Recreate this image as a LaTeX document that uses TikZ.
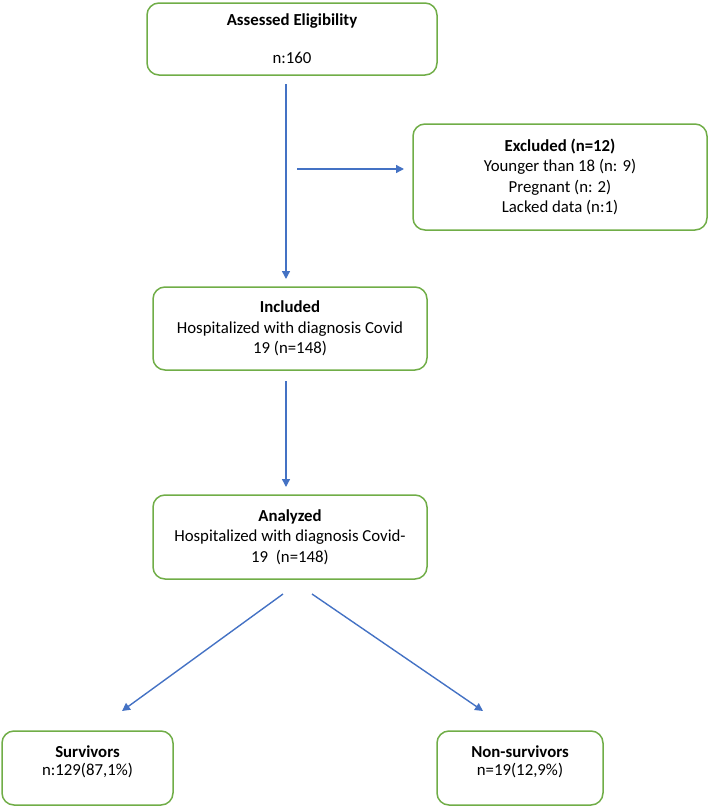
\documentclass[tikz,border=0pt]{standalone}
\usepackage{fontspec}
\setmainfont{Carlito}
\usetikzlibrary{arrows.meta}
\definecolor{boxgreen}{HTML}{70AD47}
\definecolor{arrowblue}{HTML}{4472C4}
\begin{document}
\begin{tikzpicture}[x=1pt,y=1pt,
  box/.style={draw=boxgreen, line width=1.5pt, rounded corners=12pt, align=center,
    inner sep=0pt, font=\fontsize{16.8}{20.5}\selectfont},
  arr/.style={draw=arrowblue, line width=1.4pt, -{Triangle[length=8pt,width=8pt]}}]
\useasboundingbox (0,0) rectangle (709,-806);
\node[box, minimum width=290pt, minimum height=72pt] (elig) at (292,-39)
  {\textbf{Assessed Eligibility}\\[-1.5pt] \mbox{}\\[-1.5pt] n:160};
\node[box, minimum width=294pt, minimum height=106pt] (excl) at (560,-177)
  {\textbf{Excluded (n=12)}\\ Younger than 18 (n: 9)\\ Pregnant (n: 2)\\ Lacked data (n:1)};
\node[box, minimum width=274pt, minimum height=83pt] (incl) at (290,-328.5)
  {\textbf{Included}\\ Hospitalized with diagnosis Covid\\ 19 (n=148)};
\node[box, minimum width=274pt, minimum height=84pt] (anal) at (290,-537)
  {\textbf{Analyzed}\\ Hospitalized with diagnosis Covid-\\ 19\ \ (n=148)};
\node[box, minimum width=171pt, minimum height=74pt] (surv) at (87.5,-768)
  {\textbf{Survivors}\\[-2.5pt] n:129(87,1\%)\\[-6pt] \mbox{}};
\node[box, minimum width=166pt, minimum height=74pt] (nons) at (520,-768)
  {\textbf{Non-survivors}\\[-2.5pt] n=19(12,9\%)\\[-6pt] \mbox{}};
\coordinate (a1s) at (286,-84);
\coordinate (a1e) at (286,-279);
\coordinate (hs) at (297,-169);
\coordinate (he) at (404,-169);
\coordinate (a2s) at (286,-381);
\coordinate (a2e) at (286,-487);
\coordinate (dls) at (283,-594);
\coordinate (dle) at (122,-711);
\coordinate (drs) at (312,-594);
\coordinate (dre) at (483,-711);
\draw[arr] (a1s) -- (a1e);
\draw[arr] (hs) -- (he);
\draw[arr] (a2s) -- (a2e);
\draw[arr] (dls) -- (dle);
\draw[arr] (drs) -- (dre);
\end{tikzpicture}
\end{document}
